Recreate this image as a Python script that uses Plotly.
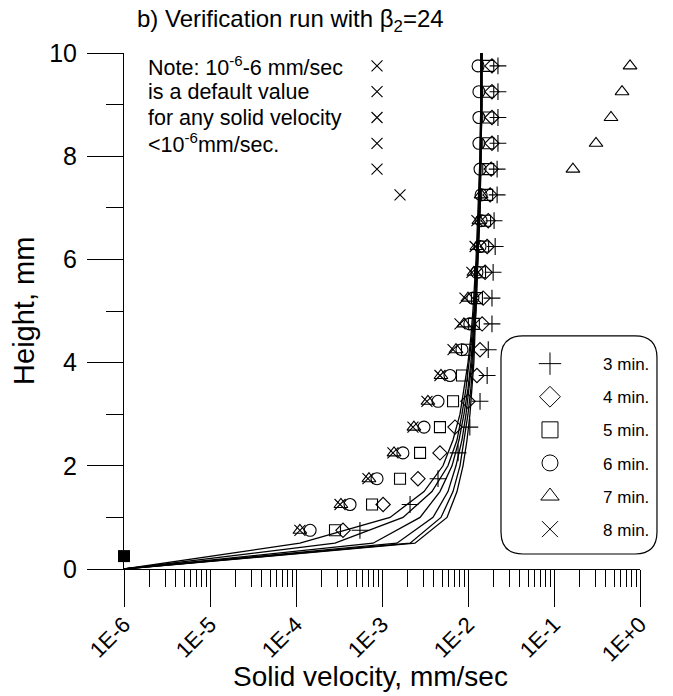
import plotly.graph_objects as go

# ---------------- data ----------------
heights = [0.75, 1.25, 1.75, 2.25, 2.75, 3.25, 3.75, 4.25, 4.75, 5.25,
           5.75, 6.25, 6.75, 7.25, 7.75, 8.25, 8.75, 9.25, 9.75]

v_3min = [5.54e-4, 2.12e-3, 4.48e-3, 7.66e-3, 1.05e-2, 1.38e-2, 1.67e-2, 1.72e-2, 1.90e-2, 1.90e-2,
          1.96e-2, 2.07e-2, 2.01e-2, 2.18e-2, 2.18e-2, 2.23e-2, 2.23e-2, 2.23e-2, 2.23e-2]
v_4min = [3.52e-4, 1.03e-3, 2.62e-3, 4.72e-3, 7.06e-3, 1.00e-2, 1.27e-2, 1.38e-2, 1.46e-2, 1.50e-2,
          1.58e-2, 1.67e-2, 1.72e-2, 1.81e-2, 1.86e-2, 1.90e-2, 1.90e-2, 1.90e-2, 1.90e-2]
v_5min = [2.84e-4, 7.66e-4, 1.62e-3, 2.77e-3, 4.72e-3, 6.70e-3, 8.51e-3, 9.73e-3, 1.17e-2, 1.27e-2,
          1.38e-2, 1.50e-2, 1.58e-2, 1.67e-2, 1.72e-2, 1.72e-2, 1.72e-2, 1.72e-2, 1.72e-2]
v_6min = [1.46e-4, 4.25e-4, 8.75e-4, 1.75e-3, 3.08e-3, 4.48e-3, 6.18e-3, 8.51e-3, 1.05e-2, 1.14e-2,
          1.27e-2, 1.38e-2, 1.42e-2, 1.42e-2, 1.38e-2, 1.34e-2, 1.34e-2, 1.34e-2, 1.31e-2]
v_7min = [1.11e-4, 3.33e-4, 7.05e-4, 1.38e-3, 2.35e-3, 3.42e-3, 4.85e-3, 7.25e-3, 8.97e-3, 1.00e-2,
          1.17e-2, 1.27e-2, 1.34e-2, 1.42e-2, 0.166, 0.308, 0.46, 0.618, 0.766]
v_8min = [1.11e-4, 3.25e-4, 6.87e-4, 1.34e-3, 2.29e-3, 3.33e-3, 4.72e-3, 6.70e-3, 8.07e-3, 9.22e-3,
          1.11e-2, 1.21e-2, 1.27e-2, 1.62e-3, 8.75e-4, 8.75e-4, 8.75e-4, 8.75e-4, 8.75e-4]

default_velocity = [1e-6]
default_height = [0.25]

model_heights = [0, 0.5, 1.0, 1.5, 2.0, 2.5, 3.0, 3.5, 4.0, 4.5, 5, 6, 7, 8, 9, 10]
model_8min = [1e-6, 1.11e-4, 1.24e-3, 3.08e-3, 5.12e-3, 6.69e-3, 8.07e-3, 8.98e-3, 1.00e-2, 1.08e-2,
              1.14e-2, 1.24e-2, 1.30e-2, 1.38e-2, 1.41e-2, 1.41e-2]
model_7min = [1e-6, 2.84e-4, 1.755e-3, 3.81e-3, 5.85e-3, 7.45e-3, 8.51e-3, 9.48e-3, 1.027e-2, 1.11e-2,
              1.17e-2, 1.27e-2, 1.34e-2, 1.38e-2, 1.41e-2, 1.41e-2]
model_6min = [1e-6, 7.86e-4, 2.77e-3, 4.72e-3, 6.52e-3, 7.86e-3, 8.98e-3, 1.00e-2, 1.08e-2, 1.14e-2,
              1.20e-2, 1.27e-2, 1.34e-2, 1.41e-2, 1.41e-2, 1.45e-2]
model_5min = [1e-6, 1.49e-3, 3.92e-3, 5.85e-3, 7.25e-3, 8.51e-3, 9.48e-3, 1.027e-2, 1.11e-2, 1.17e-2,
              1.20e-2, 1.30e-2, 1.38e-2, 1.41e-2, 1.45e-2, 1.45e-2]
model_4min = [1e-6, 2.12e-3, 4.85e-3, 6.69e-3, 8.07e-3, 8.98e-3, 1.00e-2, 1.08e-2, 1.14e-2, 1.17e-2,
              1.24e-2, 1.30e-2, 1.38e-2, 1.41e-2, 1.45e-2, 1.45e-2]
model_3min = [1e-6, 2.42e-3, 5.70e-3, 7.45e-3, 8.75e-3, 9.74e-3, 1.054e-2, 1.11e-2, 1.17e-2, 1.20e-2,
              1.24e-2, 1.30e-2, 1.38e-2, 1.41e-2, 1.45e-2, 1.45e-2]

series_names = ["3 min.", "4 min.", "5 min.", "6 min.", "7 min.", "8 min."]
x_tickvals = [1e-6, 1e-5, 1e-4, 1e-3, 1e-2, 1e-1, 1]
x_ticktext = ["1E-6", "1E-5", "1E-4", "1E-3", "1E-2", "1E-1", "1E+0"]
y_tickvals = [0, 2, 4, 6, 8, 10]

# ---------------- styles ----------------
FONT = "Liberation Sans, Arial, sans-serif"
symbols = ["cross-thin-open", "diamond-open", "square-open", "circle-open", "triangle-up-open", "x-thin-open"]
sizes = [12, 11, 11, 12, 12, 11]
obs = [v_3min, v_4min, v_5min, v_6min, v_7min, v_8min]
models = [model_3min, model_4min, model_5min, model_6min, model_7min, model_8min]

fig = go.Figure()

for m in models:
    fig.add_trace(go.Scatter(x=m, y=model_heights, mode="lines",
                             line=dict(color="black", width=1.3),
                             showlegend=False, hoverinfo="skip"))

for name, vals, sym, sz in zip(series_names, obs, symbols, sizes):
    fig.add_trace(go.Scatter(x=vals, y=heights, mode="markers", name=name,
                             marker=dict(symbol=sym, size=sz, color="black",
                                         line=dict(color="black", width=1.1)),
                             showlegend=False))
    # legend entry with larger symbol
    fig.add_trace(go.Scatter(x=[None], y=[None], mode="markers",
                             name="\u00a0" * 7 + name, legendgroup=name,
                             marker=dict(symbol=sym, size=16, color="black",
                                         line=dict(color="black", width=1)),
                             showlegend=True))

fig.add_trace(go.Scatter(x=default_velocity, y=default_height, mode="markers",
                         marker=dict(symbol="square", size=12, color="black"),
                         showlegend=False, cliponaxis=False))

# rounded legend frame (paper coords)
bx0, bx1, by0, by1, r = 0.7306, 1.0329, 0.0291, 0.4516, 0.0426
path = (f"M {bx0+r},{by0} L {bx1-r},{by0} Q {bx1},{by0} {bx1},{by0+r} "
        f"L {bx1},{by1-r} Q {bx1},{by1} {bx1-r},{by1} L {bx0+r},{by1} "
        f"Q {bx0},{by1} {bx0},{by1-r} L {bx0},{by0+r} Q {bx0},{by0} {bx0+r},{by0} Z")
fig.add_shape(type="path", path=path, xref="paper", yref="paper",
              line=dict(color="black", width=1.2), fillcolor="rgba(0,0,0,0)", layer="below")

note_lines = ["Note: 10<sup>-6</sup>-6 mm/sec", "is a default value",
              "for any solid velocity", "&lt;10<sup>-6</sup>mm/sec."]
note_y = [9.75, 9.25, 8.75, 8.25]
for t, yy in zip(note_lines, note_y):
    fig.add_annotation(text=t, xref="paper", yref="y", x=0.0426, y=yy,
                       xanchor="left", yanchor="middle", showarrow=False,
                       font=dict(family=FONT, size=21.5, color="black"))

fig.add_annotation(text="b) Verification run with β<sub>2</sub>=24", xref="paper", yref="paper",
                   x=0.0213, y=1.063, xanchor="left", yanchor="middle", showarrow=False,
                   font=dict(family=FONT, size=24, color="black"))
fig.add_annotation(text="Height, mm", xref="paper", yref="paper", x=-0.194, y=0.5,
                   textangle=-90, xanchor="center", yanchor="middle", showarrow=False,
                   font=dict(family=FONT, size=29, color="black"))
fig.add_annotation(text="Solid velocity, mm/sec", xref="paper", yref="paper", x=0.477, y=-0.2074,
                   xanchor="center", yanchor="middle", showarrow=False,
                   font=dict(family=FONT, size=28, color="black"))

minor_x = [k * 10.0 ** e for e in range(-6, 0) for k in range(2, 10)]

fig.update_layout(
    width=673, height=696,
    margin=dict(l=124, r=33, t=53, b=127),
    paper_bgcolor="white", plot_bgcolor="white",
    font=dict(family=FONT, color="black"),
    showlegend=True,
    legend=dict(x=0.7868, y=0.432, xanchor="left", yanchor="top",
                bgcolor="rgba(0,0,0,0)", borderwidth=0,
                tracegroupgap=8, traceorder="grouped",
                font=dict(family=FONT, size=17, color="black")),
    xaxis=dict(type="log", range=[-6, 0], showgrid=False, zeroline=False,
               showline=True, linecolor="black", linewidth=1,
               ticks="outside", ticklen=37, tickwidth=1, tickcolor="black",
               tickmode="array", tickvals=x_tickvals, ticktext=x_ticktext,
               tickangle=-45, tickfont=dict(family=FONT, size=22, color="black"),
               ticklabelstandoff=-4,
               minor=dict(tickmode="array", tickvals=minor_x, ticks="outside",
                          ticklen=17, tickwidth=1, tickcolor="black", showgrid=False)),
    yaxis=dict(range=[0, 10], showgrid=False, zeroline=False,
               showline=True, linecolor="black", linewidth=1,
               ticks="outside", ticklen=36, tickwidth=1, tickcolor="black",
               tickmode="array", tickvals=y_tickvals,
               tickfont=dict(family=FONT, size=25, color="black"),
               ticklabelstandoff=5,
               minor=dict(dtick=1, ticks="outside", ticklen=17, tickwidth=1,
                          tickcolor="black", showgrid=False)),
)

fig.write_html("out.html")
